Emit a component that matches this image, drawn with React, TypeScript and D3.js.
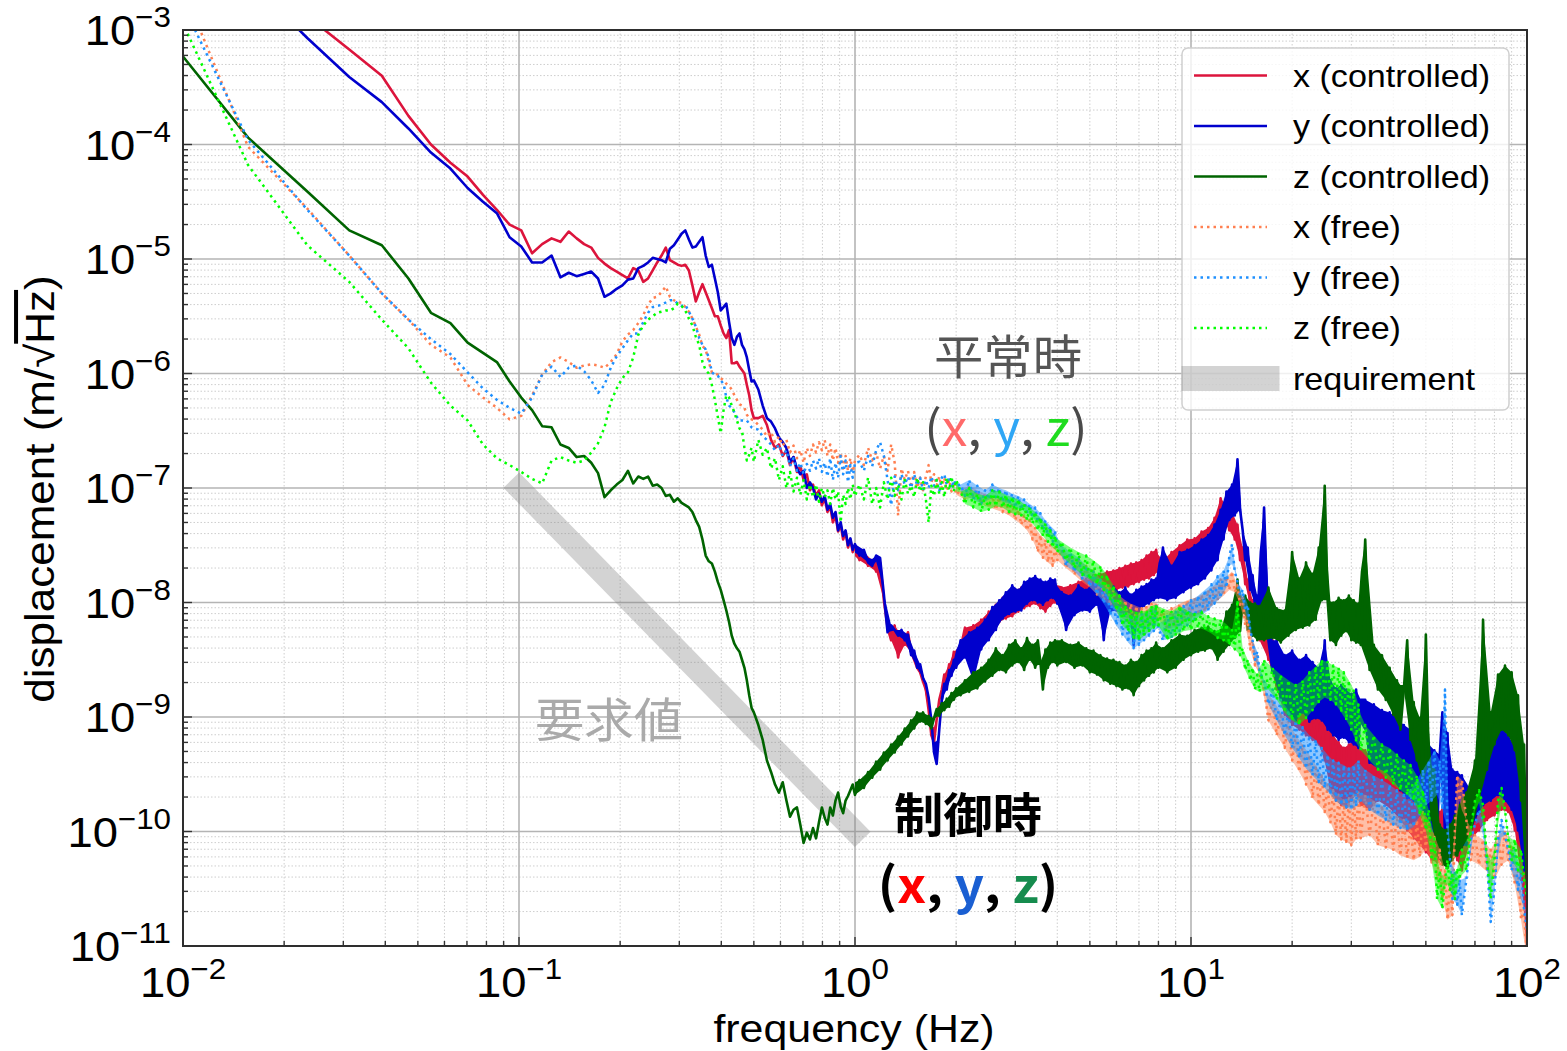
import React from 'react';
import * as d3 from 'd3';

// Frequency resolution of the spectra (Hz per FFT bin)
const DF = 1 / 128;

// FFT bins kept for plotting: every bin up to 0.5 Hz, then 32 bins per octave
const BINS = [
  1, 2, 3, 4, 5, 6, 7, 8, 9, 10, 11, 12, 13, 14, 15, 16, 17, 18, 19, 20, 21, 22, 23, 24, 25, 26, 27, 28, 29, 30, 31, 32,
  33, 34, 35, 36, 37, 38, 39, 40, 41, 42, 43, 44, 45, 46, 47, 48, 49, 50, 51, 52, 53, 54, 55, 56, 57, 58, 59, 60, 61, 62, 63, 64,
  66, 68, 70, 72, 74, 76, 78, 80, 82, 84, 86, 88, 90, 92, 94, 96, 98, 100, 102, 104, 106, 108, 110, 112, 114, 116, 118, 120, 122, 124, 126, 128,
  132, 136, 140, 144, 148, 152, 156, 160, 164, 168, 172, 176, 180, 184, 188, 192, 196, 200, 204, 208, 212, 216, 220, 224, 228, 232, 236, 240, 244, 248, 252, 256,
  264, 272, 280, 288, 296, 304, 312, 320, 328, 336, 344, 352, 360, 368, 376, 384, 392, 400, 408, 416, 424, 432, 440, 448, 456, 464, 472, 480, 488, 496, 504, 512,
  528, 544, 560, 576, 592, 608, 624, 640, 656, 672, 688, 704, 720, 736, 752, 768, 784, 800, 816, 832, 848, 864, 880, 896, 912, 928, 944, 960, 976, 992, 1008, 1024,
  1056, 1088, 1120, 1152, 1184, 1216, 1248, 1280, 1312, 1344, 1376, 1408, 1440, 1472, 1504, 1536, 1568, 1600, 1632, 1664, 1696, 1728, 1760, 1792, 1824, 1856, 1888, 1920, 1952, 1984, 2016, 2048,
  2112, 2176, 2240, 2304, 2368, 2432, 2496, 2560, 2624, 2688, 2752, 2816, 2880, 2944, 3008, 3072, 3136, 3200, 3264, 3328, 3392, 3456, 3520, 3584, 3648, 3712, 3776, 3840, 3904, 3968, 4032, 4096,
  4224, 4352, 4480, 4608, 4736, 4864, 4992, 5120, 5248, 5376, 5504, 5632, 5760, 5888, 6016, 6144, 6272, 6400, 6528, 6656, 6784, 6912, 7040, 7168, 7296, 7424, 7552, 7680, 7808, 7936, 8064, 8192,
  8448, 8704, 8960, 9216, 9472, 9728, 9984, 10240, 10496, 10752, 11008, 11264, 11520, 11776, 12032, 12288, 12544, 12800,
];

// log10 of the displacement ASD (m/√Hz), one value per entry of BINS
const X_CONTROLLED = [
  -1.90, -2.30, -2.88, -3.17, -3.40, -3.75, -4.00, -4.16, -4.28, -4.44, -4.57, -4.70, -4.75, -4.95, -4.87, -4.82, -4.85, -4.76, -4.82, -4.87, -4.90, -4.99, -5.04, -5.08, -5.11, -5.14, -5.17, -5.08, -5.10, -5.20, -5.17, -5.10,
  -5.03, -4.97, -4.90, -5.01, -5.03, -5.05, -5.06, -5.05, -5.10, -5.23, -5.37, -5.29, -5.22, -5.29, -5.36, -5.43, -5.50, -5.50, -5.58, -5.65, -5.69, -5.62, -5.91, -5.91, -5.90, -5.94, -5.97, -6.00, -6.10, -6.19, -6.32, -6.39,
  -6.39, -6.37, -6.45, -6.58, -6.65, -6.62, -6.72, -6.67, -6.80, -6.73, -6.86, -6.81, -6.93, -6.88, -7.02, -6.97, -7.07, -7.02, -7.15, -7.09, -7.21, -7.16, -7.30, -7.24, -7.38, -7.32, -7.45, -7.38, -7.52, -7.45, -7.56, -7.51,
  -7.63, -7.56, -7.68, -7.63, -7.73, -7.65, -7.98, -8.22, -8.33, -8.20, -8.48, -8.29, -8.37, -8.26, -8.43, -8.50, -8.57, -8.61, -8.69, -8.76, -8.94, -9.16, -9.22, -9.02, -8.85, -8.76, -8.63, -8.68, -8.54, -8.57, -8.43, -8.48,
  -8.40, -8.22, -8.46, -8.20, -8.37, -8.15, -8.33, -8.08, -8.24, -8.02, -8.17, -7.96, -8.14, -7.93, -8.12, -7.89, -8.08, -7.87, -8.05, -7.85, -8.03, -7.84, -8.01, -7.86, -8.05, -7.89, -8.08, -7.87, -8.03, -7.84, -8.00, -7.86,
  -7.87, -8.07, -7.85, -8.02, -7.82, -7.98, -7.79, -7.96, -7.76, -7.94, -7.75, -7.93, -7.73, -7.91, -7.72, -7.89, -7.70, -7.87, -7.68, -7.86, -7.66, -7.84, -7.65, -7.82, -7.63, -7.80, -7.59, -7.79, -7.56, -7.76, -7.54, -7.73,
  -7.63, -7.84, -7.56, -7.80, -7.50, -7.73, -7.45, -7.70, -7.44, -7.68, -7.38, -7.63, -7.35, -7.56, -7.26, -7.45, -7.09, -7.28, -7.15, -7.37, -7.21, -7.45, -7.32, -7.63, -7.52, -7.84, -7.80, -8.02, -7.98, -8.20, -8.11, -8.33,
  -8.15, -8.50, -8.33, -8.76, -8.59, -8.98, -8.76, -9.07, -8.85, -9.11, -8.89, -9.16, -8.94, -9.20, -8.96, -9.24, -9.01, -9.38, -9.07, -9.64, -9.16, -9.73, -9.22, -9.77, -9.27, -9.79, -9.24, -9.73, -9.20, -9.68, -9.24, -9.77,
  -9.29, -9.81, -9.38, -9.73, -9.27, -9.77, -9.31, -9.83, -9.42, -9.90, -9.51, -9.99, -9.57, -10.06, -9.64, -10.12, -9.73, -10.18, -9.81, -10.25, -9.86, -10.27, -9.83, -10.23, -9.73, -10.16, -9.64, -10.12, -9.59, -10.25, -9.64, -10.34,
  -9.73, -10.07, -9.64, -9.99, -9.57, -9.90, -9.51, -9.86, -9.46, -9.81, -9.48, -9.83, -9.55, -9.99, -9.73, -10.42, -10.16, -10.99,
];

const Y_CONTROLLED = [
  -2.10, -2.56, -3.07, -3.41, -3.63, -3.86, -4.07, -4.21, -4.38, -4.50, -4.60, -4.81, -4.89, -5.03, -5.03, -4.97, -5.16, -5.12, -5.15, -5.13, -5.11, -5.17, -5.33, -5.30, -5.26, -5.23, -5.18, -5.17, -5.08, -5.06, -5.03, -4.99,
  -5.00, -5.01, -5.03, -4.91, -4.88, -4.83, -4.78, -4.75, -4.83, -4.90, -4.89, -4.85, -4.81, -4.97, -5.07, -5.05, -5.17, -5.29, -5.45, -5.42, -5.39, -5.55, -5.69, -5.75, -5.68, -5.65, -5.75, -5.79, -5.86, -5.97, -6.07, -6.06,
  -6.14, -6.28, -6.39, -6.42, -6.48, -6.56, -6.60, -6.65, -6.77, -6.73, -6.83, -6.88, -6.85, -7.00, -6.95, -7.00, -7.10, -7.05, -7.12, -7.07, -7.19, -7.14, -7.26, -7.21, -7.37, -7.30, -7.42, -7.37, -7.50, -7.44, -7.54, -7.49,
  -7.59, -7.54, -7.65, -7.68, -7.59, -7.61, -7.93, -8.26, -8.20, -8.24, -8.29, -8.24, -8.33, -8.28, -8.46, -8.42, -8.57, -8.54, -8.66, -8.71, -8.83, -9.03, -9.31, -9.41, -9.11, -8.85, -8.71, -8.76, -8.59, -8.64, -8.50, -8.57,
  -8.33, -8.48, -8.26, -8.69, -8.22, -8.41, -8.15, -8.33, -8.04, -8.24, -7.98, -8.14, -7.91, -8.10, -7.85, -8.08, -7.89, -8.07, -7.82, -8.01, -7.79, -7.98, -7.77, -8.00, -7.80, -8.02, -7.82, -7.98, -7.79, -7.96, -7.80, -8.01,
  -7.91, -8.24, -7.94, -8.11, -7.85, -8.07, -7.89, -8.08, -7.82, -8.02, -7.87, -8.33, -7.91, -8.08, -7.86, -8.07, -7.91, -8.11, -7.87, -8.08, -7.93, -8.37, -7.89, -8.08, -7.86, -8.03, -7.84, -8.01, -7.80, -7.98, -7.79, -7.96,
  -7.52, -7.98, -7.68, -7.96, -7.56, -7.91, -7.54, -7.87, -7.50, -7.84, -7.45, -7.79, -7.41, -7.72, -7.32, -7.63, -7.19, -7.45, -7.03, -7.28, -6.97, -7.24, -6.75, -7.19, -7.37, -7.63, -7.52, -7.89, -7.76, -8.02, -7.94, -8.20,
  -7.17, -8.33, -8.61, -8.33, -8.85, -8.46, -8.98, -8.42, -9.03, -8.50, -8.96, -8.46, -9.04, -8.52, -9.01, -8.57, -9.03, -8.33, -9.11, -8.68, -9.16, -8.75, -9.20, -8.72, -9.18, -8.76, -9.22, -8.80, -9.24, -8.76, -9.27, -8.85,
  -8.85, -9.40, -8.89, -9.45, -8.94, -9.48, -8.96, -9.55, -9.01, -9.64, -9.07, -9.71, -9.11, -9.73, -9.16, -9.79, -9.20, -9.86, -9.24, -9.99, -9.29, -10.06, -9.33, -8.96, -10.09, -9.14, -10.07, -9.46, -10.12, -9.48, -10.14, -9.51,
  -10.12, -9.64, -9.90, -9.38, -9.77, -9.20, -9.73, -9.11, -9.68, -9.09, -9.73, -9.16, -9.81, -9.27, -9.99, -9.46, -10.34, -10.25,
];

const Z_CONTROLLED = [
  -2.84, -3.94, -4.41, -4.75, -4.88, -5.17, -5.47, -5.56, -5.73, -5.82, -5.90, -6.07, -6.21, -6.32, -6.46, -6.47, -6.62, -6.65, -6.73, -6.72, -6.78, -6.87, -7.08, -7.02, -6.97, -6.93, -6.85, -6.96, -6.90, -6.92, -6.90, -6.98,
  -6.97, -7.00, -7.07, -7.06, -7.12, -7.09, -7.13, -7.15, -7.17, -7.21, -7.28, -7.34, -7.45, -7.59, -7.64, -7.66, -7.73, -7.82, -7.89, -7.98, -8.07, -8.17, -8.29, -8.36, -8.40, -8.43, -8.50, -8.57, -8.68, -8.81, -8.92, -8.96,
  -9.07, -9.20, -9.38, -9.48, -9.59, -9.66, -9.57, -9.73, -9.87, -9.81, -9.79, -9.94, -10.10, -10.01, -10.07, -9.97, -10.06, -9.92, -9.79, -9.88, -9.94, -9.79, -9.86, -9.73, -9.66, -9.78, -9.84, -9.73, -9.69, -9.64, -9.59, -9.68,
  -9.55, -9.62, -9.48, -9.53, -9.39, -9.46, -9.31, -9.38, -9.24, -9.31, -9.17, -9.24, -9.10, -9.17, -9.03, -9.10, -8.96, -9.04, -8.96, -9.06, -8.99, -9.10, -9.01, -8.93, -8.99, -8.88, -8.94, -8.84, -8.91, -8.79, -8.85, -8.75,
  -8.81, -8.68, -8.78, -8.61, -8.75, -8.57, -8.69, -8.50, -8.64, -8.40, -8.59, -8.46, -8.61, -8.37, -8.55, -8.33, -8.52, -8.40, -8.59, -8.31, -8.50, -8.37, -8.57, -8.33, -8.52, -8.76, -8.41, -8.57, -8.35, -8.52, -8.33, -8.55,
  -8.33, -8.52, -8.37, -8.57, -8.35, -8.55, -8.40, -8.61, -8.42, -8.63, -8.46, -8.68, -8.49, -8.71, -8.50, -8.73, -8.52, -8.76, -8.55, -8.75, -8.50, -8.81, -8.52, -8.73, -8.46, -8.68, -8.42, -8.64, -8.40, -8.61, -8.35, -8.57,
  -8.40, -8.61, -8.33, -8.57, -8.28, -8.50, -8.29, -8.46, -8.24, -8.43, -8.22, -8.42, -8.21, -8.40, -8.25, -8.50, -8.24, -8.43, -8.08, -8.37, -8.02, -8.31, -7.80, -8.25, -7.98, -7.94, -8.24, -8.00, -8.29, -8.01, -8.33, -8.03,
  -8.33, -7.87, -8.31, -8.05, -8.35, -8.07, -8.29, -7.56, -8.24, -7.79, -8.22, -7.65, -8.20, -7.75, -8.15, -7.52, -7.98, -6.98, -7.98, -8.33, -8.00, -8.37, -7.96, -8.29, -7.98, -8.25, -7.94, -8.33, -7.98, -8.35, -8.01, -8.37,
  -7.45, -8.59, -8.37, -8.76, -8.46, -8.85, -8.57, -8.98, -8.68, -9.11, -8.76, -8.33, -9.20, -8.87, -9.38, -9.01, -9.59, -8.28, -9.38, -9.90, -9.46, -10.21, -9.94, -10.29, -9.99, -10.32, -9.94, -10.25, -9.86, -10.21, -9.77, -10.14,
  -9.66, -10.03, -9.38, -9.73, -8.15, -9.46, -8.96, -9.24, -8.63, -9.11, -8.55, -9.16, -8.61, -9.29, -8.81, -9.73, -9.24, -10.60,
];

const X_FREE = [
  -1.87, -4.02, -4.56, -4.97, -5.30, -5.53, -5.75, -5.86, -6.10, -6.21, -6.30, -6.40, -6.37, -6.19, -6.01, -5.90, -5.86, -5.90, -5.95, -5.93, -5.92, -5.93, -5.95, -5.90, -5.83, -5.72, -5.66, -5.62, -5.56, -5.49, -5.40, -5.34,
  -5.33, -5.29, -5.24, -5.33, -5.36, -5.38, -5.38, -5.42, -5.46, -5.52, -5.59, -5.66, -5.76, -5.79, -5.90, -5.99, -6.00, -6.01, -6.04, -6.06, -6.09, -6.11, -6.14, -6.19, -6.23, -6.27, -6.28, -6.30, -6.36, -6.39, -6.40, -6.41,
  -6.45, -6.49, -6.55, -6.51, -6.60, -6.55, -6.63, -6.58, -6.69, -6.63, -6.74, -6.67, -6.78, -6.65, -6.72, -6.62, -6.69, -6.60, -6.67, -6.58, -6.72, -6.62, -6.76, -6.65, -6.78, -6.69, -6.83, -6.72, -6.85, -6.74, -6.86, -6.76,
  -6.71, -6.80, -6.65, -6.76, -6.69, -6.83, -6.72, -6.85, -6.62, -6.78, -7.24, -6.83, -6.93, -6.85, -6.97, -6.86, -7.00, -6.91, -7.02, -6.90, -6.80, -6.95, -6.88, -6.98, -6.90, -7.00, -6.91, -7.02, -6.93, -7.03, -6.95, -7.06,
  -7.02, -7.10, -6.98, -7.08, -7.02, -7.14, -7.05, -7.17, -7.07, -7.19, -7.08, -7.21, -7.10, -7.24, -7.14, -7.28, -7.19, -7.32, -7.24, -7.37, -7.28, -7.45, -7.35, -7.56, -7.41, -7.61, -7.45, -7.65, -7.50, -7.68, -7.52, -7.63,
  -7.54, -7.70, -7.59, -7.76, -7.63, -7.82, -7.68, -7.87, -7.72, -7.93, -7.79, -7.98, -7.84, -8.03, -7.89, -8.08, -7.94, -8.14, -7.98, -8.17, -8.01, -8.21, -8.03, -8.22, -8.05, -8.22, -8.03, -8.21, -8.01, -8.19, -8.00, -8.15,
  -8.08, -8.24, -8.05, -8.21, -8.01, -8.17, -7.98, -8.14, -7.96, -8.11, -7.93, -8.08, -7.89, -8.03, -7.85, -7.98, -7.80, -7.94, -7.77, -7.89, -7.73, -7.91, -7.85, -8.02, -7.96, -8.20, -8.15, -8.41, -8.33, -8.55, -8.46, -8.63,
  -8.76, -9.03, -8.85, -9.16, -8.96, -9.27, -9.04, -9.38, -9.16, -9.48, -9.24, -9.59, -9.33, -9.71, -9.42, -9.77, -9.51, -9.83, -9.59, -9.92, -9.64, -10.03, -9.68, -10.07, -9.73, -10.09, -9.71, -10.12, -9.68, -10.07, -9.66, -10.06,
  -9.68, -10.03, -9.73, -10.12, -9.77, -10.14, -9.81, -10.16, -9.86, -10.21, -9.90, -10.23, -9.94, -10.25, -9.90, -10.22, -9.83, -10.16, -9.90, -10.27, -10.03, -10.42, -10.16, -10.59, -10.34, -10.77, -10.42, -10.73, -9.99, -9.51, -9.73, -9.55,
  -9.90, -10.25, -10.03, -10.29, -10.07, -10.35, -10.16, -10.42, -10.03, -10.29, -9.99, -10.25, -10.12, -10.47, -10.34, -10.77, -10.68, -11.12,
];

const Y_FREE = [
  -2.13, -3.96, -4.57, -4.97, -5.30, -5.53, -5.70, -5.83, -5.99, -6.13, -6.23, -6.30, -6.35, -6.21, -6.01, -5.94, -6.03, -5.95, -5.93, -5.98, -6.06, -6.17, -6.10, -5.95, -5.85, -5.78, -5.71, -5.65, -5.65, -5.55, -5.47, -5.42,
  -5.41, -5.40, -5.38, -5.36, -5.36, -5.39, -5.41, -5.40, -5.46, -5.52, -5.59, -5.69, -5.75, -5.79, -5.86, -5.99, -6.01, -6.02, -6.06, -6.09, -6.21, -6.28, -6.30, -6.34, -6.38, -6.41, -6.41, -6.41, -6.41, -6.44, -6.47, -6.48,
  -6.49, -6.55, -6.58, -6.62, -6.67, -6.62, -6.72, -6.67, -6.81, -6.74, -6.85, -6.78, -6.88, -6.79, -6.85, -6.76, -6.83, -6.74, -6.86, -6.78, -6.90, -6.74, -6.93, -6.78, -6.91, -6.72, -6.88, -6.76, -6.95, -6.80, -6.91, -6.78,
  -6.77, -6.85, -6.72, -6.81, -6.67, -6.60, -6.72, -6.93, -7.15, -6.90, -7.02, -6.88, -6.97, -6.90, -7.00, -6.88, -6.98, -6.91, -7.02, -6.93, -7.00, -6.90, -6.98, -6.93, -7.03, -6.91, -6.88, -6.97, -6.90, -7.00, -6.93, -6.98,
  -6.97, -7.07, -6.93, -7.10, -6.98, -7.14, -7.02, -7.10, -6.97, -7.08, -7.00, -7.12, -7.02, -7.14, -7.05, -7.17, -7.07, -7.19, -7.10, -7.21, -7.14, -7.26, -7.17, -7.30, -7.22, -7.37, -7.28, -7.42, -7.33, -7.47, -7.37, -7.52,
  -7.50, -7.68, -7.56, -7.73, -7.61, -7.80, -7.68, -7.86, -7.73, -7.93, -7.80, -8.01, -7.89, -8.11, -7.96, -8.20, -8.03, -8.28, -8.08, -8.35, -8.11, -8.40, -8.12, -8.37, -8.10, -8.33, -8.08, -8.29, -8.05, -8.25, -8.03, -8.22,
  -8.33, -8.11, -8.31, -8.08, -8.25, -8.03, -8.20, -7.98, -8.15, -7.94, -8.11, -7.89, -8.07, -7.84, -8.01, -7.77, -7.96, -7.72, -7.87, -7.60, -7.49, -7.73, -7.82, -7.94, -7.89, -8.07, -8.02, -8.24, -8.33, -8.50, -8.43, -8.61,
  -8.68, -8.89, -8.76, -9.03, -8.85, -9.16, -8.94, -9.27, -9.03, -9.36, -9.09, -9.45, -9.16, -9.51, -9.20, -9.57, -9.27, -9.62, -9.33, -9.68, -9.38, -9.73, -9.40, -9.77, -9.42, -9.79, -9.45, -9.81, -9.42, -9.78, -9.38, -9.73,
  -9.46, -9.81, -9.51, -9.86, -9.55, -9.90, -9.59, -9.94, -9.64, -9.97, -9.68, -9.99, -9.64, -9.96, -9.55, -9.86, -9.46, -9.77, -9.38, -9.73, -9.29, -9.68, -9.38, -9.81, -8.76, -9.99, -10.25, -10.59, -10.34, -10.64, -10.42, -10.73,
  -10.42, -10.07, -9.94, -9.81, -9.90, -10.25, -10.79, -10.51, -10.07, -9.90, -10.03, -10.16, -10.34, -10.16, -10.51, -10.34, -10.68, -10.86,
];

const Z_FREE = [
  -2.26, -4.18, -4.88, -5.20, -5.53, -5.78, -6.08, -6.28, -6.41, -6.62, -6.74, -6.80, -6.86, -6.92, -6.96, -6.76, -6.73, -6.76, -6.78, -6.76, -6.69, -6.61, -6.47, -6.25, -6.13, -6.04, -5.99, -5.86, -5.66, -5.58, -5.53, -5.50,
  -5.47, -5.46, -5.45, -5.45, -5.43, -5.39, -5.41, -5.45, -5.52, -5.58, -5.68, -5.75, -5.90, -5.97, -6.00, -6.10, -6.23, -6.38, -6.52, -6.32, -6.19, -6.21, -6.28, -6.34, -6.41, -6.48, -6.50, -6.65, -6.76, -6.71, -6.65, -6.77,
  -6.58, -6.71, -6.65, -6.83, -6.74, -6.93, -6.81, -7.00, -6.86, -7.03, -6.91, -7.06, -6.93, -7.10, -6.97, -7.08, -6.97, -7.12, -7.00, -7.08, -7.02, -7.14, -7.00, -7.10, -7.03, -7.30, -7.06, -7.14, -7.00, -7.10, -6.97, -7.07,
  -6.97, -7.10, -6.91, -7.14, -7.00, -7.17, -6.95, -7.10, -6.91, -7.07, -6.97, -7.10, -6.93, -7.05, -6.98, -7.08, -6.91, -7.03, -6.95, -7.10, -7.30, -6.98, -7.07, -6.93, -7.05, -6.95, -7.08, -6.91, -7.02, -6.90, -7.03, -6.93,
  -7.03, -7.14, -7.00, -7.17, -7.05, -7.21, -7.07, -7.19, -7.02, -7.16, -7.03, -7.17, -7.06, -7.21, -7.08, -7.23, -7.10, -7.24, -7.14, -7.28, -7.17, -7.31, -7.21, -7.37, -7.26, -7.42, -7.31, -7.47, -7.37, -7.52, -7.42, -7.56,
  -7.47, -7.63, -7.52, -7.70, -7.56, -7.76, -7.59, -7.80, -7.63, -7.84, -7.68, -7.89, -7.76, -7.98, -7.85, -8.07, -7.94, -8.20, -8.02, -8.25, -8.07, -8.31, -8.08, -8.33, -8.08, -8.29, -8.07, -8.25, -8.03, -8.22, -8.02, -8.20,
  -8.05, -8.33, -8.08, -8.29, -8.03, -8.25, -8.07, -8.24, -8.10, -8.22, -8.08, -8.24, -8.12, -8.27, -8.14, -8.31, -8.15, -8.33, -8.19, -8.37, -8.24, -8.41, -7.98, -8.46, -8.40, -8.59, -8.50, -8.68, -8.57, -8.76, -8.63, -8.78,
  -8.50, -8.76, -8.57, -8.85, -8.63, -8.96, -8.68, -9.03, -8.72, -9.07, -8.68, -9.01, -8.61, -8.94, -8.56, -8.87, -8.50, -8.83, -8.52, -8.85, -8.55, -8.89, -8.57, -8.96, -8.61, -9.03, -8.68, -9.11, -8.76, -9.22, -8.89, -9.29,
  -9.07, -9.38, -9.16, -9.46, -9.24, -9.53, -9.27, -9.59, -9.33, -9.64, -9.38, -9.68, -9.42, -9.73, -9.51, -9.86, -9.64, -9.99, -9.81, -10.25, -10.06, -10.59, -10.34, -10.68, -10.42, -10.25, -10.51, -10.38, -10.59, -10.32, -10.42, -10.16,
  -10.34, -9.99, -9.73, -9.64, -9.77, -10.25, -10.59, -10.25, -9.73, -9.62, -9.81, -10.07, -10.25, -10.07, -10.34, -10.16, -10.42, -10.59,
];

// Stability requirement: end points (Hz, m/√Hz)
const REQUIREMENT = [
  [0.1, 1e-7],
  [1, 1e-10],
];

const X_DOMAIN = [1e-2, 1e2];
const Y_DOMAIN = [1e-11, 1e-3];

// Above these frequencies the spectra are dense noise: the local spread is shaded
const DENSE_CONTROLLED_HZ = 1;
const DENSE_FREE_HZ = 2;

const SERIES = [
  { label: 'x (controlled)', values: X_CONTROLLED, color: '#dc143c', dotted: false },
  { label: 'y (controlled)', values: Y_CONTROLLED, color: '#0000cd', dotted: false },
  { label: 'z (controlled)', values: Z_CONTROLLED, color: '#006400', dotted: false },
  { label: 'x (free)', values: X_FREE, color: '#ff7f50', dotted: true },
  { label: 'y (free)', values: Y_FREE, color: '#1e90ff', dotted: true },
  { label: 'z (free)', values: Z_FREE, color: '#00ff00', dotted: true },
];

const W = 1567;
const H = 1051;
const PLOT = { left: 183, right: 1527, top: 30, bottom: 946 };

const SANS = "'Liberation Sans', Arial, Helvetica, sans-serif";
const JP = "'Noto Sans CJK JP', 'Noto Sans', sans-serif";
const SX = 1.08;

const LINE_W = 2.6;
const DOT_W = 2.5;
const DOT_DASH = '2.5 4';
const REQ_COLOR = 'gray';
const REQ_OPACITY = 0.35;

function Stretched({ x, y, rotate = 0, sx = SX, children }) {
  const rot = rotate ? ` rotate(${rotate})` : '';
  return <g transform={`translate(${x},${y})${rot} scale(${sx},1)`}>{children}</g>;
}

function PowerLabel({ x, y, exp, anchor }) {
  const sup = exp < 0 ? `\u2212${-exp}` : `${exp}`;
  return (
    <Stretched x={x} y={y}>
      <text textAnchor={anchor} fontFamily={SANS} fontSize={42} fill="#000">
        10
        <tspan dy={-18} fontSize={29}>
          {sup}
        </tspan>
      </text>
    </Stretched>
  );
}

export default function App() {
  const x = d3.scaleLog().domain(X_DOMAIN).range([PLOT.left, PLOT.right]);
  const y = d3.scaleLog().domain(Y_DOMAIN).range([PLOT.bottom, PLOT.top]);
  const line = d3
    .line()
    .x((d) => x(d[0]))
    .y((d) => y(d[1]));

  const isMajor = (v) => Math.abs(Math.log10(v) - Math.round(Math.log10(v))) < 1e-6;
  const xTicks = x.ticks();
  const yTicks = y.ticks();

  const seriesPaths = SERIES.map((s) => {
    const fromHz = s.dotted ? DENSE_FREE_HZ : DENSE_CONTROLLED_HZ;
    // band between the local lower and upper envelope of the noisy part
    const spread = d3
      .area()
      .defined((d) => d.f >= fromHz)
      .x((d) => x(d.f))
      .y0((d) => y(d.lo))
      .y1((d) => y(d.hi));
    const n = Math.min(BINS.length, s.values.length);
    const pts = [];
    const env = [];
    for (let i = 0; i < n; i++) {
      const v = s.values[i];
      pts.push([BINS[i] * DF, Math.pow(10, v)]);
      const prev = i > 0 ? s.values[i - 1] : v;
      const next = i < n - 1 ? s.values[i + 1] : v;
      const mid = (prev + next) / 2;
      env.push({ f: BINS[i] * DF, lo: Math.pow(10, Math.min(v, mid)), hi: Math.pow(10, Math.max(v, mid)) });
    }
    return { ...s, d: line(pts), band: spread(env) };
  });

  const legendRows = [
    ...SERIES.map((s) => ({ label: s.label, color: s.color, dotted: s.dotted, band: false })),
    { label: 'requirement', color: REQ_COLOR, dotted: false, band: true },
  ];
  const legend = { x: 1182, y: 48, w: 327, h: 362, row0: 75.5, pitch: 50.5, hx0: 1194, hx1: 1267, tx: 1293 };

  return (
    <svg
      width={W}
      height={H}
      viewBox={`0 0 ${W} ${H}`}
      style={{ position: 'absolute', left: 0, top: 0, background: '#fff' }}
    >
      <defs>
        <clipPath id="plot-clip">
          <rect x={PLOT.left} y={PLOT.top} width={PLOT.right - PLOT.left} height={PLOT.bottom - PLOT.top} />
        </clipPath>
      </defs>
      <rect x={0} y={0} width={W} height={H} fill="#fff" />

      {/* minor grid */}
      <g stroke="#c8c8c8" strokeWidth={0.9} strokeDasharray="1.5 2">
        {xTicks.filter((t) => !isMajor(t)).map((t, i) => (
          <line key={`xm${i}`} x1={x(t)} x2={x(t)} y1={PLOT.top} y2={PLOT.bottom} />
        ))}
        {yTicks.filter((t) => !isMajor(t)).map((t, i) => (
          <line key={`ym${i}`} x1={PLOT.left} x2={PLOT.right} y1={y(t)} y2={y(t)} />
        ))}
      </g>
      {/* major grid */}
      <g stroke="#b4b4b4" strokeWidth={1.6}>
        {xTicks.filter(isMajor).map((t, i) => (
          <line key={`xM${i}`} x1={x(t)} x2={x(t)} y1={PLOT.top} y2={PLOT.bottom} />
        ))}
        {yTicks.filter(isMajor).map((t, i) => (
          <line key={`yM${i}`} x1={PLOT.left} x2={PLOT.right} y1={y(t)} y2={y(t)} />
        ))}
      </g>

      <g clipPath="url(#plot-clip)">
        {/* requirement band */}
        <path
          d={line(REQUIREMENT)}
          stroke={REQ_COLOR}
          strokeOpacity={REQ_OPACITY}
          strokeWidth={22}
          strokeLinecap="square"
          fill="none"
        />
        {seriesPaths.map((s) => (
          <g key={s.label}>
            <path d={s.band} fill={s.color} fillOpacity={s.dotted ? 0.5 : 1} stroke="none" />
            <path
              d={s.d}
              fill="none"
              stroke={s.color}
              strokeWidth={s.dotted ? DOT_W : LINE_W}
              strokeDasharray={s.dotted ? DOT_DASH : undefined}
              strokeLinejoin="round"
            />
          </g>
        ))}
      </g>

      {/* ticks */}
      <g stroke="#333" strokeWidth={1.4}>
        {xTicks.map((t, i) => (
          <line key={`xt${i}`} x1={x(t)} x2={x(t)} y1={PLOT.bottom} y2={PLOT.bottom - (isMajor(t) ? 9 : 5)} />
        ))}
        {yTicks.map((t, i) => (
          <line key={`yt${i}`} x1={PLOT.left} x2={PLOT.left + (isMajor(t) ? 9 : 5)} y1={y(t)} y2={y(t)} />
        ))}
      </g>
      <rect
        x={PLOT.left}
        y={PLOT.top}
        width={PLOT.right - PLOT.left}
        height={PLOT.bottom - PLOT.top}
        fill="none"
        stroke="#2e2e2e"
        strokeWidth={2}
      />

      {/* tick labels */}
      {xTicks.filter(isMajor).map((t, i) => (
        <PowerLabel key={`xl${i}`} x={x(t)} y={PLOT.bottom + 51} exp={Math.round(Math.log10(t))} anchor="middle" />
      ))}
      {yTicks.filter(isMajor).map((t, i) => (
        <PowerLabel key={`yl${i}`} x={171} y={y(t) + 15} exp={Math.round(Math.log10(t))} anchor="end" />
      ))}

      {/* axis titles */}
      <Stretched x={854} y={1042} sx={1.1}>
        <text textAnchor="middle" fontFamily={SANS} fontSize={39} fill="#000">
          frequency (Hz)
        </text>
      </Stretched>
      <Stretched x={54} y={489} rotate={-90} sx={1.1}>
        <text textAnchor="middle" fontFamily={SANS} fontSize={40} fill="#000">
          displacement (m/√<tspan textDecoration="overline" style={{ textDecoration: 'overline' }}>Hz</tspan>)
        </text>
      </Stretched>

      {/* annotations */}
      <Stretched x={609} y={737} sx={1.05}>
        <text textAnchor="middle" fontFamily={JP} fontSize={47} fill="#aaaaaa">
          要求値
        </text>
      </Stretched>
      <Stretched x={1008} y={374} sx={1.05}>
        <text textAnchor="middle" fontFamily={JP} fontSize={47} fill="#555555">
          平常時
        </text>
      </Stretched>
      <Stretched x={1006} y={446} sx={1.05}>
        <text textAnchor="middle" fontFamily={JP} fontSize={49} fill="#4a4a4a">
          (<tspan fill="#ff6a6a">x</tspan>, <tspan fill="#2fa6f5">y</tspan>, <tspan fill="#1fdc1f">z</tspan>)
        </text>
      </Stretched>
      <Stretched x={968} y={832} sx={1.05}>
        <text textAnchor="middle" fontFamily={JP} fontSize={47} fontWeight={700} fill="#000">
          制御時
        </text>
      </Stretched>
      <Stretched x={968} y={903} sx={1.05}>
        <text textAnchor="middle" fontFamily={JP} fontSize={49} fontWeight={700} fill="#000">
          (<tspan fill="#ff0000">x</tspan>, <tspan fill="#1a5fd2">y</tspan>, <tspan fill="#168c4e">z</tspan>)
        </text>
      </Stretched>

      {/* legend */}
      <rect
        x={legend.x}
        y={legend.y}
        width={legend.w}
        height={legend.h}
        rx={6}
        fill="#fff"
        fillOpacity={0.8}
        stroke="#d0d0d0"
        strokeWidth={1.5}
      />
      {legendRows.map((r, i) => {
        const ry = legend.row0 + i * legend.pitch;
        return (
          <g key={r.label}>
            {r.band ? (
              <line
                x1={legend.hx0}
                x2={legend.hx1}
                y1={ry}
                y2={ry}
                stroke={r.color}
                strokeOpacity={REQ_OPACITY}
                strokeWidth={25}
                strokeLinecap="square"
              />
            ) : (
              <line
                x1={legend.hx0}
                x2={legend.hx1}
                y1={ry}
                y2={ry}
                stroke={r.color}
                strokeWidth={r.dotted ? DOT_W : LINE_W}
                strokeDasharray={r.dotted ? DOT_DASH : undefined}
              />
            )}
            <Stretched x={legend.tx} y={ry + 11} sx={1.1}>
              <text fontFamily={SANS} fontSize={31} fill="#000">
                {r.label}
              </text>
            </Stretched>
          </g>
        );
      })}
    </svg>
  );
}
